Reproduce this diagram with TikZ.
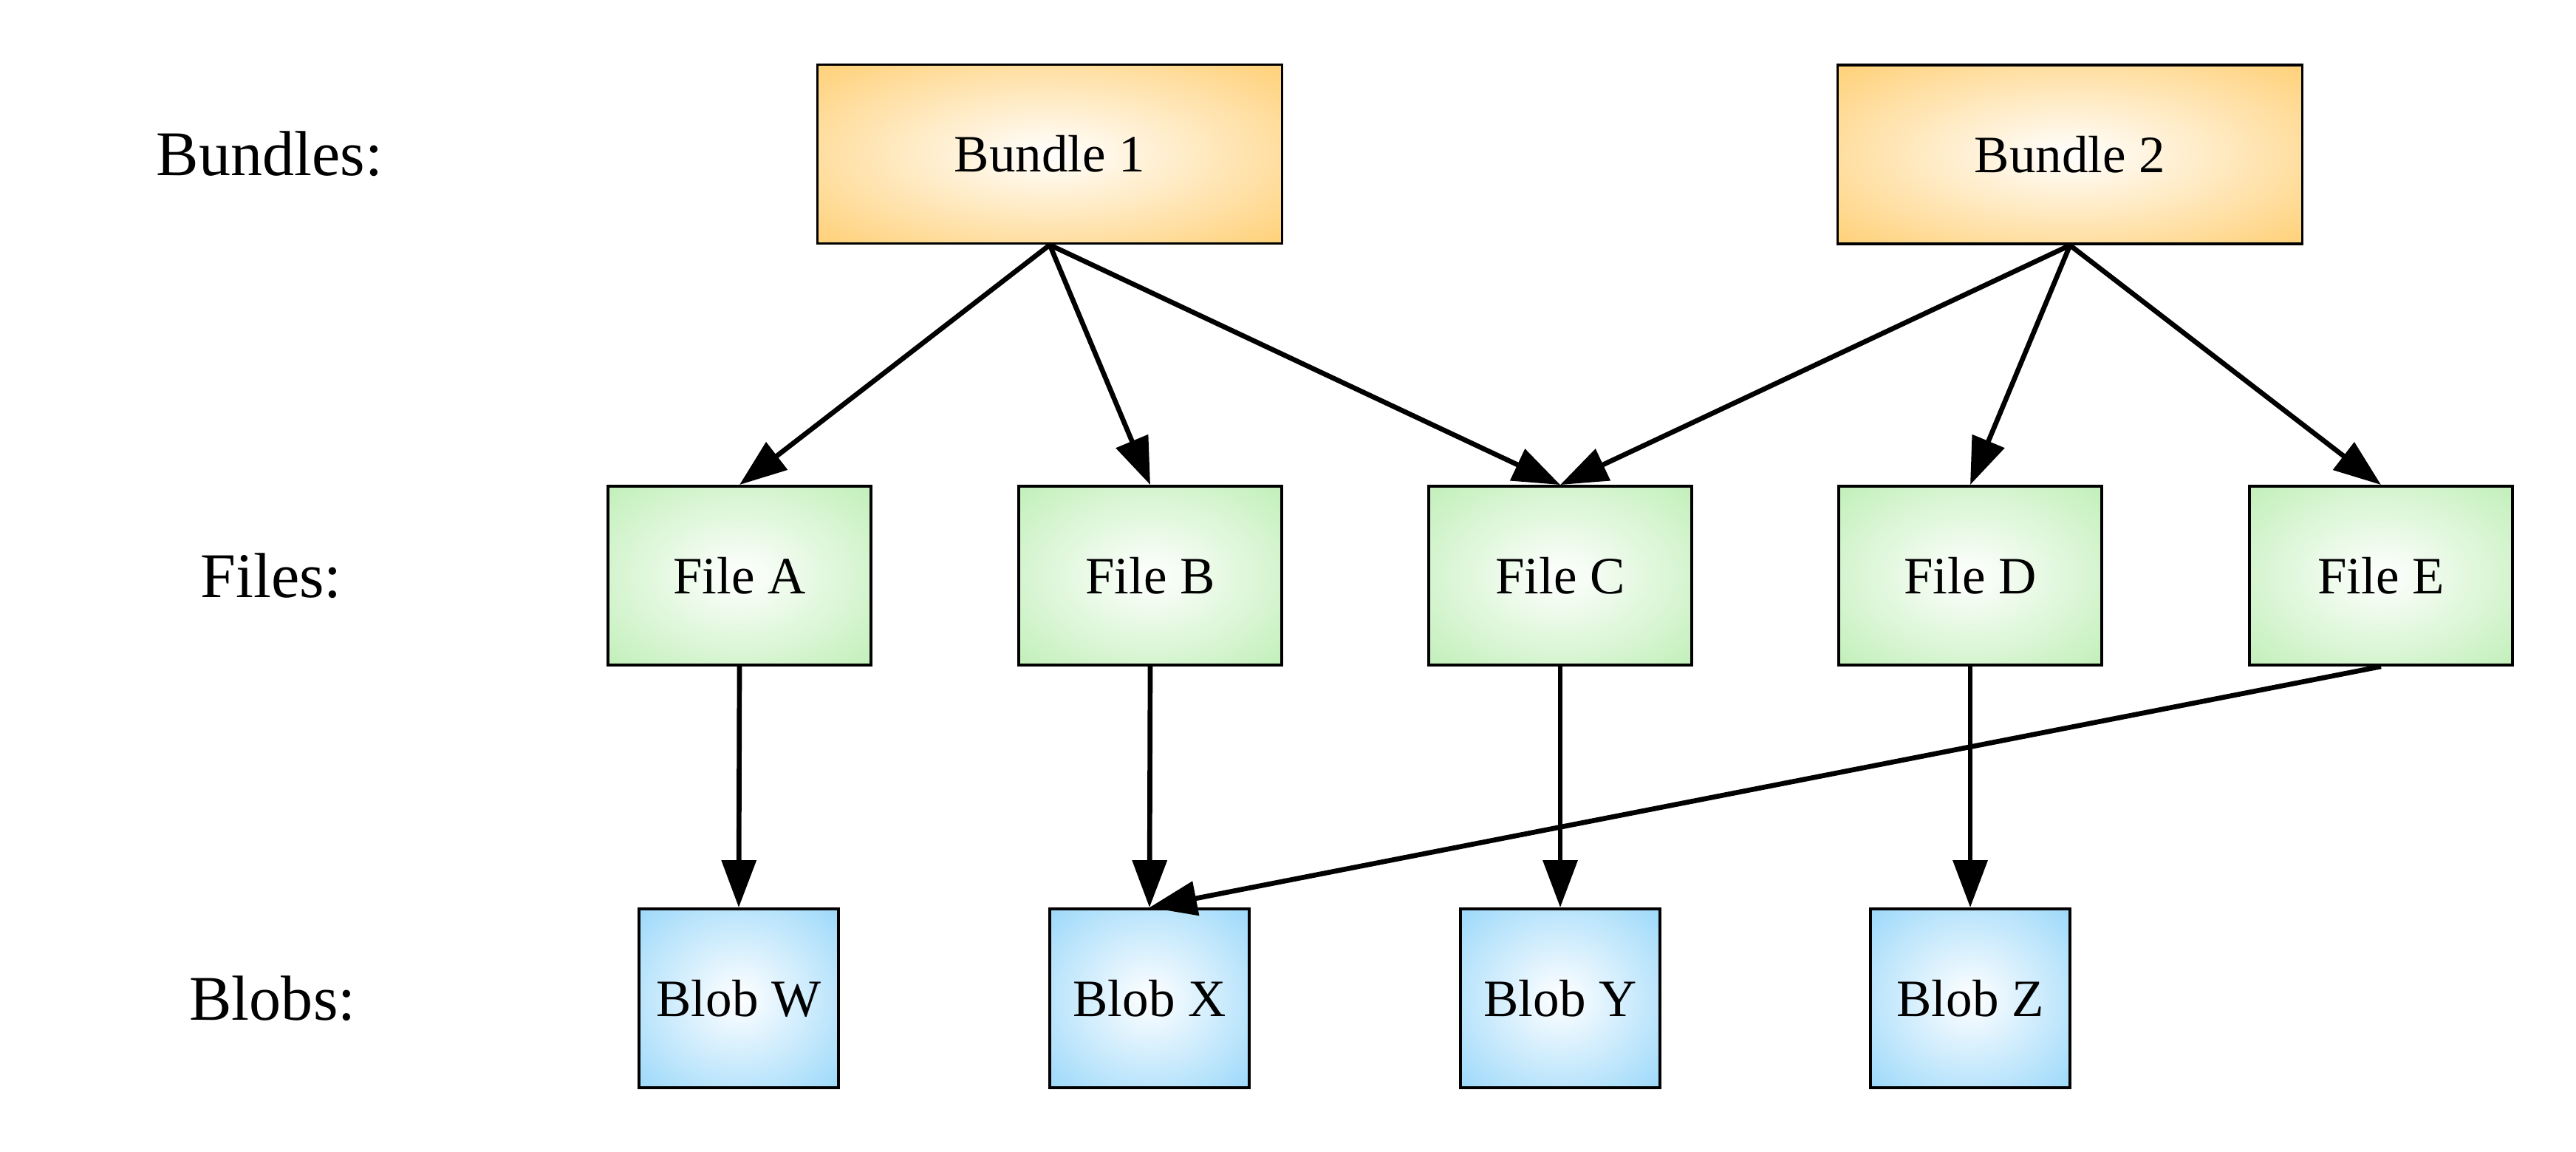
\documentclass[tikz,border=0pt]{standalone}
\usepackage{fontspec}
\setmainfont{Liberation Serif}
\usetikzlibrary{arrows.meta}
\definecolor{bundlecol}{RGB}{255,210,125}
\definecolor{filecol}{RGB}{196,240,188}
\definecolor{blobcol}{RGB}{160,218,250}
\pgfdeclareradialshading{bundleshade}{\pgfpointorigin}{color(0bp)=(white); color(34bp)=(bundlecol); color(50bp)=(bundlecol)}
\pgfdeclareradialshading{fileshade}{\pgfpointorigin}{color(0bp)=(white); color(34bp)=(filecol); color(50bp)=(filecol)}
\pgfdeclareradialshading{blobshade}{\pgfpointorigin}{color(0bp)=(white); color(34bp)=(blobcol); color(50bp)=(blobcol)}
\tikzset{
  box/.style={draw=black, line width=1.1pt, minimum height=2.42cm, inner sep=0pt, font=\fontsize{20.2}{24}\selectfont},
  bundlebox/.style={box, minimum width=6.29cm, shading=bundleshade},
  filebox/.style={box, minimum width=3.56cm, shading=fileshade},
  blobbox/.style={box, minimum width=2.70cm, shading=blobshade},
  rowlabel/.style={font=\fontsize{24.5}{29}\selectfont},
  link/.style={-{Triangle[length=6.4mm,width=4.6mm]}, line width=1.9pt}
}
\begin{document}
\begin{tikzpicture}
\useasboundingbox (0,0) rectangle (34.87,-15.58);
\node[rowlabel] (lbundles) at (3.65,-2.08) {Bundles:};
\node[rowlabel] (lfiles) at (3.67,-7.79) {Files:};
\node[rowlabel] (lblobs) at (3.69,-13.51) {Blobs:};

\node[bundlebox] (b1) at (14.21,-2.085) {Bundle 1};
\node[bundlebox] (b2) at (28.02,-2.09) {Bundle 2};
\foreach \n/\x in {A/10.01,B/15.57,C/21.12,D/26.67,E/32.23}
  \node[filebox] (f\n) at (\x,-7.79) {File \n};
\foreach \n/\x in {W/10.00,X/15.56,Y/21.12,Z/26.67}
  \node[blobbox] (bl\n) at (\x,-13.51) {Blob \n};

\foreach \f in {A,B,C}
  \draw[link] (b1.south) -- (f\f.north);
\foreach \f in {C,D,E}
  \draw[link] (b2.south) -- (f\f.north);
\foreach \f/\b in {A/W,B/X,C/Y,D/Z,E/X}
  \draw[link] (f\f.south) -- (bl\b.north);
\end{tikzpicture}
\end{document}
